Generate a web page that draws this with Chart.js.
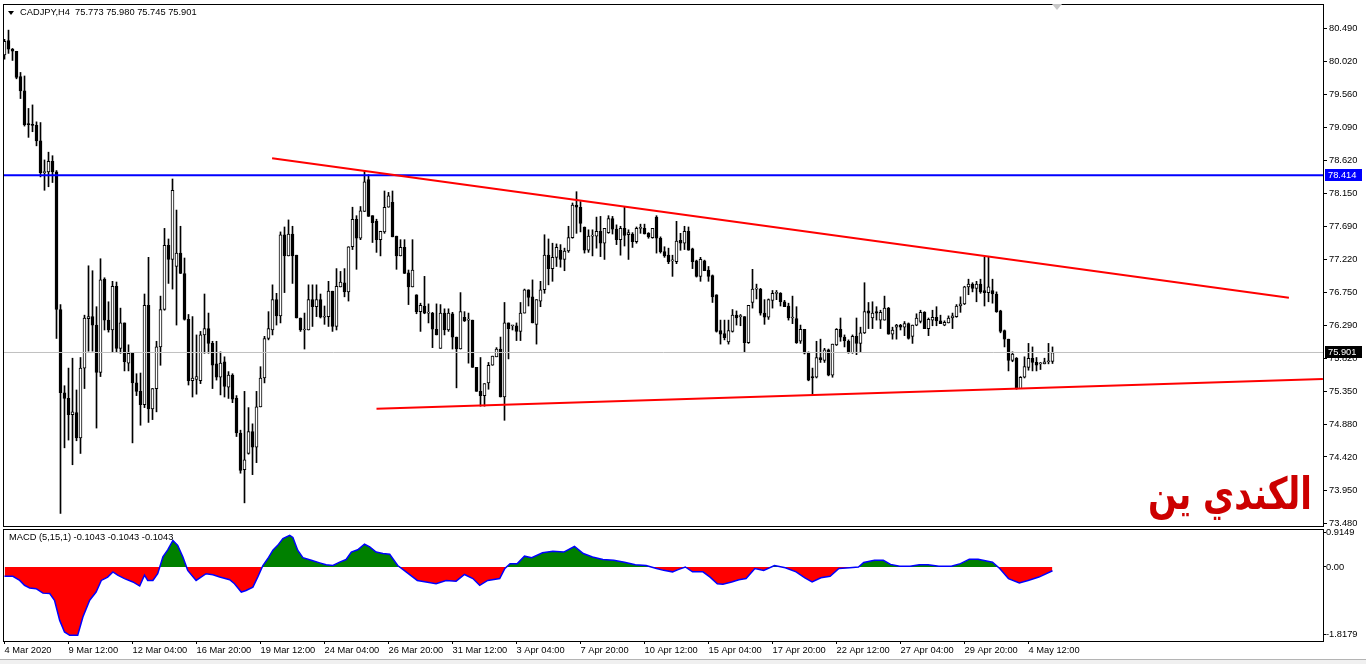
<!DOCTYPE html>
<html>
<head>
<meta charset="utf-8">
<title>CADJPY,H4</title>
<script src="https://cdn.jsdelivr.net/npm/chart.js@4.4.1/dist/chart.umd.min.js"></script>
<style>
    html, body { margin: 0; padding: 0; background: #fff; }
    body { width: 1366px; height: 664px; position: relative; overflow: hidden; font-family: "Liberation Sans", Arial, sans-serif; }
    #priceWrap { position: absolute; left: 0; top: 0; width: 1366px; height: 527px; }
    #macdWrap { position: absolute; left: 0; top: 527px; width: 1366px; height: 137px; }
    .txt { position: absolute; font-size: 9.3px; line-height: 11px; color: #000; white-space: pre; }
    #title { left: 20px; top: 7px; }
    #titleArrow { position: absolute; left: 8px; top: 11px; width: 0; height: 0; border-left: 3.5px solid transparent; border-right: 3.5px solid transparent; border-top: 4px solid #000; }
    #macdTitle { left: 9px; top: 532px; }
    #shiftMark { position: absolute; left: 1052px; top: 4px; width: 0; height: 0; border-left: 5px solid transparent; border-right: 5px solid transparent; border-top: 6px solid #c8c8c8; }
    #watermark { position: absolute; right: 54px; top: 479px; font-family: "DejaVu Sans"; font-weight: bold; font-size: 34px; line-height: 40px; color: #cc0000; transform: scaleY(1.3); transform-origin: 50% 100%; }
    #bottomBar { position: absolute; left: 0; top: 659px; width: 1366px; height: 5px; background: #f0f0f0; border-top: 1px solid #b4b4b4; }
</style>
</head>
<body>
<div id="priceWrap"><canvas id="priceChart"></canvas></div>
<div id="macdWrap"><canvas id="macdChart"></canvas></div>
<div id="titleArrow"></div>
<div id="title" class="txt">CADJPY,H4  75.773 75.980 75.745 75.901</div>
<div id="macdTitle" class="txt">MACD (5,15,1) -0.1043 -0.1043 -0.1043</div>
<div id="shiftMark"></div>
<div id="watermark" dir="rtl">الكندي ين</div>
<div id="bottomBar"></div>
<script>
// H4 candles (bar 0 = first bar on the left)
const opens = [80.12,80.32,80.20,80.17,79.81,79.61,79.14,79.13,79.12,78.90,78.45,78.46,78.61,78.46,76.51,75.33,75.25,75.02,75.05,74.69,
    75.68,76.38,76.41,76.29,75.62,76.94,76.36,76.22,76.84,75.96,76.32,75.75,75.89,75.47,75.35,75.16,76.57,75.10,75.39,75.98,
    76.51,77.42,77.22,77.12,77.31,77.02,76.37,75.50,75.52,75.50,76.15,76.24,76.03,75.74,75.55,75.77,75.41,75.58,75.25,74.76,
    74.24,74.47,74.78,74.56,75.13,75.54,76.10,76.22,76.65,76.42,77.57,77.27,77.58,77.28,76.39,76.22,76.22,76.65,76.55,76.65,
    76.40,76.41,76.77,76.27,76.83,76.89,76.76,77.40,77.79,77.52,77.90,78.35,77.84,77.76,77.50,77.61,77.96,78.03,77.55,77.27,
    77.39,77.03,76.83,76.72,76.48,76.56,76.46,76.46,76.23,75.96,76.46,76.22,76.45,76.12,75.95,76.40,76.36,76.36,75.69,75.35,
    75.29,75.47,75.72,75.84,75.95,75.27,76.32,76.28,76.28,76.20,76.46,76.79,76.69,76.30,76.63,76.79,77.28,77.09,77.25,77.35,
    77.22,77.34,77.53,77.99,77.96,77.68,77.35,77.55,77.55,77.62,77.45,77.60,77.80,77.65,77.50,77.66,77.57,77.58,77.47,77.66,
    77.66,77.59,77.53,77.82,77.52,77.33,77.28,77.20,77.19,77.49,77.45,77.62,77.37,77.20,76.98,77.20,77.07,76.99,76.72,76.21,
    76.17,76.05,76.20,76.43,76.41,76.41,76.04,76.61,76.80,76.80,76.46,76.40,76.64,76.74,76.74,76.62,76.56,76.39,76.38,76.06,
    76.23,75.90,75.56,75.55,75.83,75.79,75.94,75.58,76.01,76.23,76.12,76.06,75.90,76.13,76.03,76.18,76.49,76.39,76.48,76.36,
    76.36,76.53,76.16,76.26,76.29,76.26,76.31,76.13,76.29,76.34,76.47,76.24,76.36,76.40,76.35,76.29,76.32,76.39,76.41,76.56,
    76.59,76.83,76.87,76.81,76.87,76.78,76.75,76.78,76.73,76.49,76.21,76.09,75.79,75.82,75.39,75.55,75.69,75.82,75.76,75.74,
    75.74,75.77,75.773];
const highs = [80.34,80.47,80.21,80.17,79.87,79.82,79.36,79.41,79.17,79.16,78.63,78.74,78.69,78.48,76.58,75.43,75.68,75.82,75.37,75.83,
    76.43,77.13,77.06,76.55,77.23,76.96,76.62,76.91,76.90,76.53,76.32,76.01,75.90,75.60,75.61,76.73,77.25,75.39,76.06,76.70,
    77.66,77.51,78.36,77.92,77.69,77.24,76.44,76.41,76.15,76.20,76.73,76.46,76.06,76.06,75.91,75.84,75.63,75.60,75.29,74.80,
    75.35,75.12,74.89,75.35,75.70,76.13,76.48,76.86,76.74,77.61,77.68,77.78,77.69,77.28,76.39,76.46,76.86,76.86,76.86,76.73,
    76.56,76.91,76.77,77.09,77.05,77.09,77.40,77.96,77.84,77.97,78.48,78.42,77.84,77.79,77.62,78.19,78.17,78.19,77.55,77.50,
    77.50,77.07,77.50,76.72,76.60,76.98,76.59,76.47,76.59,76.58,76.52,76.52,76.47,76.12,76.75,76.48,76.46,76.36,75.69,75.83,
    75.46,75.76,75.85,75.97,76.12,76.61,76.32,76.28,76.32,76.61,76.80,76.79,76.93,76.65,76.91,77.57,77.51,77.45,77.44,77.43,
    77.38,77.69,78.02,78.18,78.04,77.68,77.64,77.64,77.82,77.83,77.66,77.84,77.83,77.71,77.69,77.96,77.64,77.60,77.68,77.72,
    77.72,77.60,77.66,77.84,77.54,77.40,77.38,77.28,77.76,77.59,77.69,77.68,77.38,77.21,77.25,77.21,77.12,77.00,76.72,76.36,
    76.36,76.36,76.51,76.49,76.44,76.41,76.57,77.08,76.87,76.81,76.65,76.66,76.78,76.78,76.75,76.64,76.60,76.70,76.55,76.29,
    76.23,75.91,75.68,76.06,76.09,75.96,75.95,76.02,76.24,76.39,76.15,76.08,76.15,76.39,76.26,76.89,76.61,76.62,76.55,76.50,
    76.70,76.54,76.26,76.30,76.30,76.34,76.32,76.29,76.45,76.50,76.48,76.39,76.50,76.55,76.43,76.35,76.42,76.46,76.58,76.69,
    76.84,76.94,76.89,76.91,76.94,77.25,77.25,76.94,76.76,76.50,76.22,76.09,75.91,75.83,75.56,75.84,76.03,75.98,75.83,75.76,
    75.82,76.03,75.980];
const lows = [80.06,80.14,80.04,79.78,79.50,79.11,78.95,79.03,78.83,78.39,78.20,78.25,78.31,76.10,73.62,74.55,74.66,74.31,74.65,74.47,
    75.39,75.92,75.92,74.83,75.56,76.22,76.19,75.91,75.91,75.89,75.64,75.64,74.62,75.29,74.87,75.12,74.91,74.95,75.06,75.72,
    76.50,76.88,76.80,76.29,77.02,76.36,75.44,75.27,75.31,75.46,75.89,75.89,75.39,75.51,75.30,75.27,75.25,75.19,74.71,74.19,
    73.77,74.46,74.17,74.34,75.13,75.47,76.08,76.15,76.29,76.32,76.75,77.27,76.88,76.39,76.20,75.95,76.22,76.27,76.41,76.39,
    76.30,76.27,76.20,76.22,76.83,76.69,76.63,77.36,77.08,77.50,77.90,77.83,77.46,77.32,77.27,77.59,77.96,77.54,77.08,77.27,
    77.02,76.58,76.83,76.45,76.20,76.45,76.32,75.97,76.15,75.96,76.15,76.20,75.95,75.40,75.95,76.34,75.75,75.69,75.35,75.14,
    75.14,75.38,75.72,75.84,75.27,74.94,75.81,76.22,76.07,76.07,76.46,76.56,76.32,76.02,76.55,76.74,76.86,76.91,77.12,77.11,
    77.06,77.32,77.52,77.59,77.61,77.31,77.32,77.27,77.38,77.26,77.22,77.59,77.58,77.43,77.28,77.41,77.22,77.39,77.45,77.59,
    77.58,77.52,77.52,77.31,77.31,77.25,77.16,76.98,77.16,77.35,77.36,77.35,77.09,76.97,76.91,77.06,76.91,76.61,76.19,76.02,
    76.08,76.02,76.19,76.29,76.28,75.91,76.03,76.53,76.66,76.43,76.30,76.37,76.53,76.65,76.56,76.55,76.36,76.31,76.03,76.03,
    75.88,75.50,75.30,75.54,75.76,75.76,75.57,75.55,76.00,76.06,75.98,75.89,75.89,75.87,75.91,76.17,76.24,76.24,76.36,76.24,
    76.36,76.16,76.09,76.09,76.22,76.14,76.09,76.03,76.28,76.32,76.24,76.14,76.28,76.28,76.31,76.28,76.32,76.24,76.40,76.47,
    76.58,76.72,76.76,76.62,76.74,76.56,76.62,76.60,76.47,76.18,75.98,75.64,75.77,75.38,75.39,75.54,75.65,75.64,75.64,75.66,
    75.74,75.74,75.745];
const closes = [80.31,80.20,80.17,79.80,79.61,79.13,79.13,79.12,78.90,78.45,78.46,78.61,78.46,76.51,75.33,75.25,75.02,75.06,74.69,75.68,
    76.39,76.41,76.29,75.62,76.93,76.36,76.22,76.84,75.96,76.32,75.77,75.89,75.47,75.35,75.16,76.57,75.10,75.39,75.98,76.51,
    77.42,77.22,78.20,77.31,77.02,76.37,75.50,75.54,75.56,76.15,76.24,76.03,75.72,75.55,75.75,75.42,75.58,75.24,74.76,74.23,
    74.38,74.78,74.56,75.13,75.54,76.10,76.24,76.65,76.42,77.57,77.27,77.58,77.27,76.39,76.22,76.23,76.65,76.55,76.65,76.40,
    76.41,76.77,76.27,76.84,76.90,76.76,77.40,77.79,77.52,77.91,78.32,77.83,77.74,77.50,77.62,77.96,78.12,77.54,77.27,77.39,
    77.02,76.83,77.07,76.48,76.57,76.46,76.46,76.23,76.15,76.46,76.22,76.46,76.12,75.95,76.48,76.35,76.36,75.69,75.35,75.29,
    75.46,75.72,75.85,75.95,75.27,76.32,76.24,76.28,76.20,76.46,76.79,76.68,76.32,76.65,76.79,77.28,77.09,77.25,77.39,77.22,
    77.34,77.53,77.99,77.96,77.73,77.35,77.55,77.55,77.62,77.45,77.66,77.80,77.65,77.50,77.66,77.56,77.60,77.47,77.66,77.66,
    77.58,77.54,77.66,77.52,77.33,77.27,77.19,77.20,77.48,77.45,77.62,77.35,77.19,76.98,77.22,77.06,76.98,76.69,76.20,76.16,
    76.11,76.21,76.43,76.39,76.41,76.04,76.57,76.80,76.80,76.46,76.40,76.65,76.74,76.74,76.62,76.55,76.39,76.39,76.04,76.23,
    75.89,75.51,75.54,75.83,75.80,75.94,75.58,76.02,76.23,76.12,76.07,75.90,76.13,76.03,76.18,76.48,76.46,76.46,76.46,76.47,
    76.53,76.16,76.22,76.29,76.26,76.31,76.10,76.29,76.39,76.47,76.24,76.37,76.40,76.35,76.31,76.33,76.39,76.42,76.56,76.59,
    76.83,76.87,76.81,76.87,76.76,76.75,76.83,76.73,76.48,76.20,76.09,75.79,75.88,75.39,75.55,75.70,75.82,75.76,75.72,75.74,
    75.77,75.77,75.901];

// price axis labels
const priceTicks = [80.490, 80.020, 79.560, 79.090, 78.620, 78.150, 77.690, 77.220, 76.750, 76.290, 75.820, 75.350, 74.880, 74.420, 73.950, 73.480];

// horizontal lines: blue level and current bid
const levelPrices = [78.414, 75.901];

// trendlines (bar index -> price)
const upperTrendBars = [66.9, 321.1];
const upperTrendPrices = [78.654, 76.678];
const lowerTrendBars = [93.0, 329.6];
const lowerTrendPrices = [75.105, 75.526];

// time axis
const dateTickBars = [0, 16, 32, 48, 64, 80, 96, 112, 128, 144, 160, 176, 192, 208, 224, 240, 256];
const dateLabels = ["4 Mar 2020", "9 Mar 12:00", "12 Mar 04:00", "16 Mar 20:00", "19 Mar 12:00", "24 Mar 04:00",
    "26 Mar 20:00", "31 Mar 12:00", "3 Apr 04:00", "7 Apr 20:00", "10 Apr 12:00", "15 Apr 04:00", "17 Apr 20:00",
    "22 Apr 12:00", "27 Apr 04:00", "29 Apr 20:00", "4 May 12:00"];

// MACD (5,15,1)
const macdBars = [0,2.1,3.8,5,6.3,7.9,9.6,11.3,12.5,13.8,15,16.3,18.3,19.6,21.3,22.9,24.2,25.8,27.1,28.3,
    30,32.1,33.8,35,35.8,37.1,38.3,39.6,40.8,42.1,43.3,44.6,45.8,47.9,50.4,52.1,53.8,56.3,57.5,59.2,
    60.4,62.1,63.3,64.6,65.8,67.1,68.3,69.6,71.3,72.1,73.3,74.6,76.7,78.8,80.4,82.1,83.8,85.4,86.7,88.3,
    90,91.3,92.9,94.6,96.3,98.3,100.4,103.2,105.4,107.9,110.4,112.9,115,117.1,118.8,120.8,123.8,125.1,126.4,128.2,
    130,131.8,134.5,137.1,139.8,142.5,144.7,147,149.6,152.3,155,157.7,160.4,163,164.8,167,168.4,170.2,172,174.6,
    176.4,178.2,179.6,181.8,183.6,185.4,187.6,189.8,192.5,195.2,197.9,200.1,201.9,204.1,206.4,208.6,211.3,213.5,214.8,217.5,
    219.7,221.5,223.8,226.4,228.7,230.9,233.6,236.7,239,241.2,243.4,247,248.8,251,253.7,255.9,258.6,262];
const macdValues = [-0.25,-0.25,-0.36,-0.49,-0.56,-0.58,-0.70,-0.71,-0.89,-1.43,-1.74,-1.83,-1.83,-1.34,-0.89,-0.67,-0.36,-0.27,-0.13,-0.22,
    -0.31,-0.40,-0.51,-0.22,-0.36,-0.36,-0.18,0.27,0.46,0.71,0.58,0.27,-0.09,-0.36,-0.18,-0.21,-0.27,-0.34,-0.45,-0.67,
    -0.63,-0.54,-0.27,0.04,0.22,0.45,0.58,0.76,0.85,0.79,0.45,0.25,0.18,0.11,0.06,0.04,0.13,0.20,0.40,0.46,
    0.61,0.54,0.40,0.36,0.34,0.04,-0.13,-0.36,-0.40,-0.45,-0.36,-0.38,-0.20,-0.31,-0.49,-0.36,-0.31,-0.04,0.09,0.09,
    0.29,0.25,0.38,0.42,0.40,0.55,0.36,0.27,0.20,0.18,0.13,0.06,0.04,-0.04,-0.09,-0.13,-0.07,0.00,-0.13,-0.13,
    -0.27,-0.45,-0.46,-0.40,-0.34,-0.31,-0.04,-0.09,0.04,-0.02,-0.13,-0.29,-0.40,-0.29,-0.25,-0.04,-0.02,0.00,0.12,0.18,
    0.18,0.07,0.02,0.02,0.06,0.06,0.02,0.02,0.09,0.21,0.21,0.13,-0.04,-0.31,-0.43,-0.36,-0.27,-0.10];
const macdTicks = [0.9149, 0, -1.8179];
const macdTickLabels = ["0.9149", "0.00", "-1.8179"];

// visible window (bar index range), MT4 keeps empty space on the right
const xMin = -0.125, xMax = 329.625;
const axisFont = { family: "Liberation Sans", size: 9.3 };

const framePlugin = {
    id: "frame",
    afterDraw(chart) {
        const { ctx, chartArea: a } = chart;
        ctx.save();
        ctx.strokeStyle = "#000";
        ctx.lineWidth = 1;
        ctx.strokeRect(a.left - 0.5, a.top - 0.5, a.right - a.left + 1, a.bottom - a.top + 1);
        ctx.restore();
    }
};

// price tags on the axis for the blue level and the bid line
const tagColors = ["#0000ff", "#000000"];
const tagPlugin = {
    id: "tags",
    afterDraw(chart) {
        const y = chart.scales.y, ctx = chart.ctx;
        ctx.save();
        levelPrices.forEach((p, k) => {
            const py = Math.round(y.getPixelForValue(p));
            ctx.fillStyle = tagColors[k];
            ctx.fillRect(y.left + 2, py - 6, 37, 12);
            ctx.fillStyle = "#fff";
            ctx.font = "9.3px Liberation Sans";
            ctx.textBaseline = "middle";
            ctx.fillText(p.toFixed(3), y.left + 5, py);
        });
        ctx.restore();
    }
};

// no extra room for half labels at the ends, MT4 lets them hang over
const noPad = (s) => { s.paddingTop = 0; s.paddingBottom = 0; s.paddingLeft = 0; s.paddingRight = 0; };

const bars = opens.map((o, i) => i);
const bodyData = bars.map(i => ({ x: i, y: [opens[i], closes[i]] }));
const wickData = bars.map(i => ({ x: i, y: [lows[i], highs[i]] }));
const bodyColors = bars.map(i => closes[i] >= opens[i] ? "#ffffff" : "#000000");

const lineSet = (points, color, width) => ({
    type: "line", data: points, borderColor: color, borderWidth: width,
    pointRadius: 0, tension: 0, fill: false, order: 0
});

new Chart(document.getElementById("priceChart"), {
    type: "bar",
    data: {
        datasets: [
            lineSet(upperTrendBars.map((b, k) => ({ x: b, y: upperTrendPrices[k] })), "#ff0000", 2),
            lineSet(lowerTrendBars.map((b, k) => ({ x: b, y: lowerTrendPrices[k] })), "#ff0000", 2),
            lineSet([{ x: xMin, y: levelPrices[0] }, { x: xMax, y: levelPrices[0] }], "#0000ff", 2),
            lineSet([{ x: xMin, y: levelPrices[1] }, { x: xMax, y: levelPrices[1] }], "#c0c0c0", 1),
            {
                type: "bar", data: bodyData, barThickness: 3, borderWidth: 1, borderColor: "#000",
                borderSkipped: false, backgroundColor: bodyColors, minBarLength: 1, grouped: false, order: 1
            },
            {
                type: "bar", data: wickData, barThickness: 1, borderWidth: 0,
                backgroundColor: "#000", grouped: false, order: 2
            }
        ]
    },
    options: {
        animation: false,
        responsive: true,
        maintainAspectRatio: false,
        events: [],
        layout: { padding: { left: 4, top: 5, right: 0, bottom: 1 } },
        plugins: { legend: { display: false }, tooltip: { enabled: false } },
        scales: {
            x: { type: "linear", min: xMin, max: xMax, display: false, offset: false },
            y: {
                position: "right", min: 73.442, max: 80.826,
                afterFit(s) { s.width = 43; noPad(s); },
                afterBuildTicks(s) { s.ticks = priceTicks.map(v => ({ value: v })); },
                ticks: { callback: v => v.toFixed(3), font: axisFont, color: "#000", padding: 2, autoSkip: false },
                grid: { drawOnChartArea: false, tickLength: 4, color: "#000" },
                border: { display: false }
            }
        }
    },
    plugins: [framePlugin, tagPlugin]
});

new Chart(document.getElementById("macdChart"), {
    type: "line",
    data: {
        datasets: [{
            data: macdBars.map((b, k) => ({ x: b, y: macdValues[k] })),
            borderColor: "#0000ff",
            borderWidth: 1.5,
            pointRadius: 0,
            tension: 0,
            fill: { target: { value: 0 }, above: "#008000", below: "#ff0000" }
        }]
    },
    options: {
        animation: false,
        responsive: true,
        maintainAspectRatio: false,
        events: [],
        layout: { padding: { left: 4, top: 3, right: 0, bottom: 0 } },
        plugins: { legend: { display: false }, tooltip: { enabled: false } },
        scales: {
            x: {
                type: "linear", min: xMin, max: xMax, offset: false,
                afterFit(s) { s.height = 23; noPad(s); },
                afterBuildTicks(s) { s.ticks = dateTickBars.map(v => ({ value: v })); },
                ticks: {
                    callback: (v, i) => dateLabels[i], align: "start", maxRotation: 0, autoSkip: false,
                    padding: 1, font: axisFont, color: "#000"
                },
                grid: { drawOnChartArea: false, tickLength: 3, color: "#000" },
                border: { display: false }
            },
            y: {
                position: "right", min: -1.982, max: 0.991,
                afterFit(s) { s.width = 43; noPad(s); },
                afterBuildTicks(s) { s.ticks = macdTicks.map(v => ({ value: v })); },
                ticks: { callback: (v, i) => macdTickLabels[i], font: axisFont, color: "#000", padding: 0, autoSkip: false },
                grid: { drawOnChartArea: false, tickLength: 3, color: "#000" },
                border: { display: false }
            }
        }
    },
    plugins: [framePlugin]
});
</script>
</body>
</html>
